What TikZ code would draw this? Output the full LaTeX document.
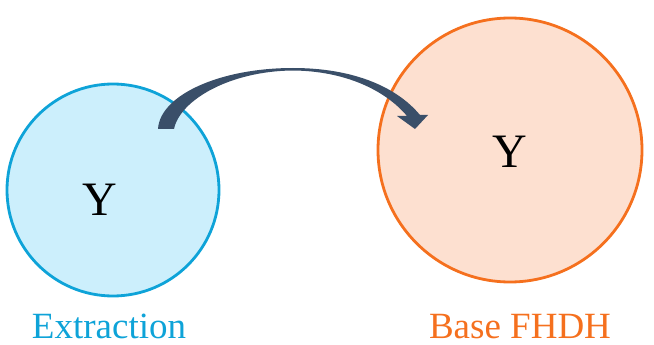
\documentclass[tikz,border=0pt]{standalone}
\usepackage{fontspec}
\setmainfont{Liberation Serif}
\definecolor{extblue}{HTML}{0EA3D8}
\definecolor{extfill}{HTML}{CCEFFC}
\definecolor{baseorange}{HTML}{F5701E}
\definecolor{basefill}{HTML}{FDE0D0}
\definecolor{arrowslate}{HTML}{3A4F69}
\begin{document}
\begin{tikzpicture}[x=1pt,y=-1pt,
    blob/.style={circle,line width=2.8pt,inner sep=0pt},
    letter/.style={font=\fontsize{48}{48}\selectfont},
    caption/.style={font=\fontsize{37}{37}\selectfont,anchor=base,inner sep=0pt}]
    \useasboundingbox (0,0) rectangle (654,345);
    \node[blob,draw=extblue,fill=extfill,minimum size=212pt] (ext) at (113,190) {};
    \node[blob,draw=baseorange,fill=basefill,minimum size=264pt] (base) at (510,150) {};
    \node[letter] (y1) at (100,200) {Y};
    \node[letter] (y2) at (510,152) {Y};
    \node[caption,text=extblue] (extlabel) at (109,338) {Extraction};
    \node[caption,text=baseorange] (baselabel) at (520,338) {Base FHDH};
    \fill[arrowslate] (158,129) .. controls (160,95) and (220,68) .. (293,68)
        .. controls (350,68) and (395,85) .. (420,115) -- (428,115) -- (415,129) -- (397,116) -- (407,116)
        .. controls (385,90) and (345,71) .. (293,70.5)
        .. controls (230,71) and (180,100) .. (174,129) -- cycle;
\end{tikzpicture}
\end{document}
